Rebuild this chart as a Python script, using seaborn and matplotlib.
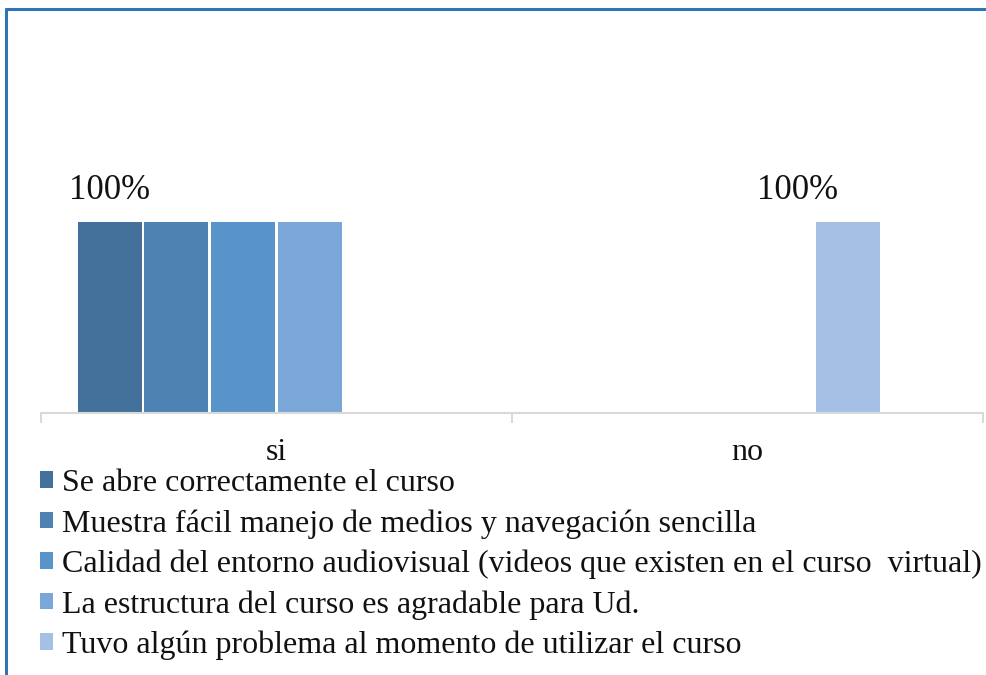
import matplotlib
matplotlib.use("Agg")
import matplotlib.pyplot as plt
from matplotlib.patches import Patch
from matplotlib.lines import Line2D
import seaborn as sns
import pandas as pd

# Respuestas por categoría (fracción de encuestados)
categorias = ["si", "no"]
series = [
    "Se abre correctamente el curso",
    "Muestra fácil manejo de medios y navegación sencilla",
    "Calidad del entorno audiovisual (videos que existen en el curso  virtual)",
    "La estructura del curso es agradable para Ud.",
    "Tuvo algún problema al momento de utilizar el curso",
]
valores_si = [1.0, 1.0, 1.0, 1.0, 0.0]
valores_no = [0.0, 0.0, 0.0, 0.0, 1.0]
colores = ["#43719B", "#4E82B2", "#5894CA", "#7AA7D8", "#A5C0E4"]

# hueco reservado de una sexta serie sin datos
serie_vacia = "reservada"

filas = []
for s, vs, vn in zip(series, valores_si, valores_no):
    filas.append({"categoria": "si", "serie": s, "valor": vs})
    filas.append({"categoria": "no", "serie": s, "valor": vn})
df = pd.DataFrame(filas)

sns.set_theme(style="white")
plt.rcParams["font.family"] = ["Liberation Serif", "DejaVu Serif"]

W, H = 986, 675
fig = plt.figure(figsize=(W / 100, H / 100), dpi=100)
fig.patch.set_facecolor("white")

ymax = 1.5
px_per_unit = 191
ax_left, ax_right, ax_bottom = 41, 983, 413
ax_h = ymax * px_per_unit
ax = fig.add_axes([ax_left / W, (H - ax_bottom) / H, (ax_right - ax_left) / W, ax_h / H])

sns.barplot(
    data=df, x="categoria", y="valor", hue="serie",
    order=categorias, hue_order=series + [serie_vacia],
    palette=colores + ["#FFFFFF"], saturation=1, width=0.85, gap=0.04,
    edgecolor="none", linewidth=0, errorbar=None, legend=False, ax=ax,
)

ax.set_xlim(-0.5, 1.5)
ax.set_ylim(0, ymax)
ax.set_xlabel("")
ax.set_ylabel("")
ax.set_yticks([])
for side in ["top", "left", "right"]:
    ax.spines[side].set_visible(False)
ax.spines["bottom"].set_color("#D9D9D9")
ax.spines["bottom"].set_linewidth(1.5)
ax.tick_params(axis="x", which="major", bottom=False, length=0, pad=18,
               labelsize=23, labelcolor="#111111")
ax.set_xticks([-0.5, 0.5, 1.5], minor=True)
ax.tick_params(axis="x", which="minor", bottom=True, direction="out",
               length=7.2, width=1.5, color="#D9D9D9")

# etiquetas de datos
etiquetas = [("si", 0, 0), ("no", 4, -50)]
for cat, idx, dx in etiquetas:
    ci = categorias.index(cat)
    bar = ax.containers[idx].patches[ci]
    val = bar.get_height()
    ax.annotate(f"{val:.0%}", xy=(bar.get_x() + bar.get_width() / 2, val),
                xytext=(dx * 0.72, 11), textcoords="offset points",
                ha="center", va="bottom", fontsize=25, color="#111111")

handles = [Patch(facecolor=c, edgecolor="none") for c in colores]
fig.legend(handles, series, loc="upper left", bbox_to_anchor=(40 / W, 1 - 469 / H),
           frameon=False, fontsize=23, handlelength=0.42, handleheight=0.42,
           handletextpad=0.28, labelspacing=0.345, borderaxespad=0, borderpad=0,
           labelcolor="#111111")

# marco del gráfico
azul = "#2E75B6"
fig.add_artist(Line2D([6 / W, 6 / W], [0, 1 - 9 / H], transform=fig.transFigure, color=azul, lw=2.2))
fig.add_artist(Line2D([6 / W, 1], [1 - 9 / H, 1 - 9 / H], transform=fig.transFigure, color=azul, lw=2.2))

fig.savefig("out.png", dpi=100)
